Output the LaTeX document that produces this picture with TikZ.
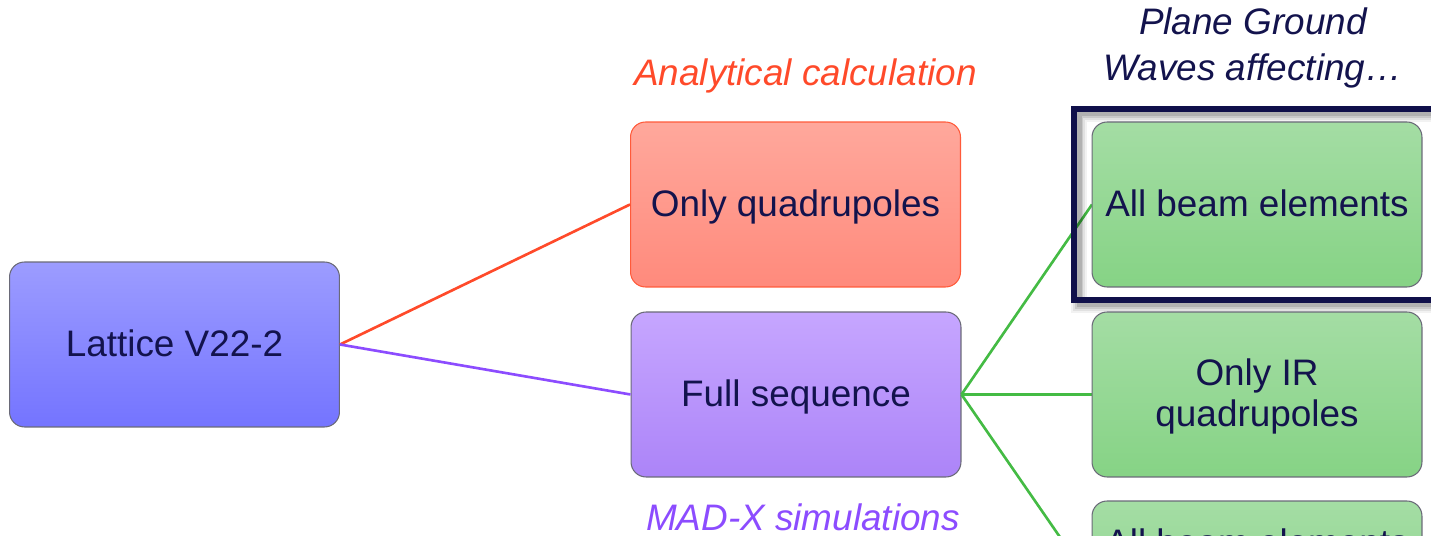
\documentclass[tikz,border=0pt]{standalone}
\usepackage{fontspec}
\setmainfont{Liberation Sans}

\definecolor{navy}{HTML}{13134D}
\definecolor{framenavy}{HTML}{10104A}
\definecolor{latticetop}{HTML}{9C9CFF}
\definecolor{latticebot}{HTML}{7474FF}
\definecolor{quadtop}{HTML}{FFA89C}
\definecolor{quadbot}{HTML}{FF8A7C}
\definecolor{quadedge}{HTML}{FF5A3A}
\definecolor{fulltop}{HTML}{C6A6FF}
\definecolor{fullbot}{HTML}{AC84F8}
\definecolor{greentop}{HTML}{A4DDA4}
\definecolor{greenbot}{HTML}{86D385}
\definecolor{boxedge}{HTML}{6A6A78}
\definecolor{redline}{HTML}{FF4A2A}
\definecolor{purpleline}{HTML}{8C4CFF}
\definecolor{greenline}{HTML}{44BB44}

% keeps every line of a box at the same height
\newcommand{\boxstrut}{\rule[-3.5pt]{0pt}{21pt}}

\tikzset{
  box/.style={rounded corners=0.3cm, minimum width=6.6cm, minimum height=3.3cm,
    inner sep=0pt, align=center, text=navy, line width=0.6pt,
    font=\fontsize{21}{21.6}\selectfont},
  latticebox/.style={box, draw=boxedge, top color=latticetop, bottom color=latticebot},
  quadbox/.style={box, draw=quadedge, top color=quadtop, bottom color=quadbot},
  fullbox/.style={box, draw=boxedge, top color=fulltop, bottom color=fullbot},
  greenbox/.style={box, draw=boxedge, top color=greentop, bottom color=greenbot},
  tag/.style={anchor=base, inner sep=0pt, font=\fontsize{21}{26.6}\selectfont\itshape},
  link/.style={line width=1.5pt}
}

\begin{document}
\begin{tikzpicture}[x=0.02cm, y=-0.02cm]
\useasboundingbox (0, 0) rectangle (1431, 536);
\clip (0, 0) rectangle (1431, 536);

\node[latticebox] (lattice) at (174.5, 344.5) {\boxstrut Lattice V22-2};
\node[quadbox] (quads) at (795.5, 204.5) {\boxstrut Only quadrupoles};
\node[fullbox] (full) at (796, 394.5) {\boxstrut Full sequence};

\node[tag, text=redline] (analytic) at (805.5, 86) {Analytical calculation};
\node[tag, text=purpleline] (madx) at (803, 531) {MAD-X simulations};
\node[tag, anchor=center, align=center, text=navy] (waves) at (1253, 46)
  {\boxstrut Plane Ground\\Waves affecting\boxstrut…};

% green boxes go in after the frame, only their anchors are needed here
\coordinate (allbeamW) at (1092, 204.5);
\coordinate (irquadW) at (1092, 394.5);
\coordinate (exceptW) at (1092, 583.5);

\draw[link, redline] (lattice.east) -- (quads.west);
\draw[link, purpleline] (lattice.east) -- (full.west);
\draw[link, greenline] (full.east) -- (allbeamW);
\draw[link, greenline] (full.east) -- (irquadW);
\draw[link, greenline] (full.east) -- (exceptW);

% highlight frame with a soft shadow
\foreach \lw/\op in {16/0.05, 12/0.07, 8/0.1, 5/0.12}
  \draw[black, opacity=\op, line width=\lw*0.02cm] (1079, 114) rectangle (1460, 305);
\draw[framenavy, line width=0.13cm] (1074, 109) rectangle (1460, 300);

\node[greenbox] (allbeam) at (1257, 204.5) {\boxstrut All beam elements};
\node[greenbox] (irquad) at (1257, 394.5) {\boxstrut Only IR\\quadrupoles\boxstrut};
\node[greenbox] (except) at (1257, 583.5)
  {\boxstrut All beam elements\\except IR\\quadrupoles\boxstrut};

\end{tikzpicture}
\end{document}
